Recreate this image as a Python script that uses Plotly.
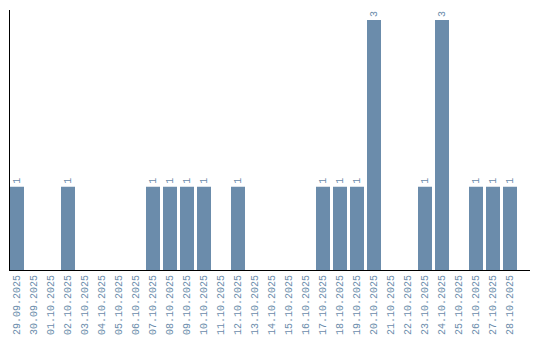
import plotly.graph_objects as go

dates = ["29.09.2025", "30.09.2025", "01.10.2025", "02.10.2025", "03.10.2025",
         "04.10.2025", "05.10.2025", "06.10.2025", "07.10.2025", "08.10.2025",
         "09.10.2025", "10.10.2025", "11.10.2025", "12.10.2025", "13.10.2025",
         "14.10.2025", "15.10.2025", "16.10.2025", "17.10.2025", "18.10.2025",
         "19.10.2025", "20.10.2025", "21.10.2025", "22.10.2025", "23.10.2025",
         "24.10.2025", "25.10.2025", "26.10.2025", "27.10.2025", "28.10.2025"]
counts = [1, 0, 0, 1, 0, 0, 0, 0, 1, 1,
          1, 1, 0, 1, 0, 0, 0, 0, 1, 1,
          1, 3, 0, 0, 1, 3, 0, 1, 1, 1]

labels = [str(v) if v > 0 else "" for v in counts]

bar_color = "#6b8cab"
text_color = "#6b8cab"

fig = go.Figure(go.Bar(
    x=dates, y=counts, text=labels,
    textposition="outside", textangle=-90,
    textfont=dict(family="Liberation Mono", size=10, color=text_color),
    marker=dict(color=bar_color, line=dict(width=0)),
    width=14/17, cliponaxis=False,
))

fig.update_layout(
    width=540, height=340,
    margin=dict(l=10, r=10, t=10, b=70, autoexpand=False),
    paper_bgcolor="white", plot_bgcolor="white",
    showlegend=False,
    xaxis=dict(type="category", range=[-7/17, 513/17], showgrid=False,
               showline=True, linecolor="black", linewidth=1,
               tickangle=-90, ticks="", automargin=False,
               tickfont=dict(family="Liberation Mono", size=10, color=text_color)),
    yaxis=dict(range=[0, 3.12], showgrid=False, zeroline=False,
               showline=True, linecolor="black", linewidth=1,
               showticklabels=False, ticks="", automargin=False),
)

fig.write_html("out.html")
